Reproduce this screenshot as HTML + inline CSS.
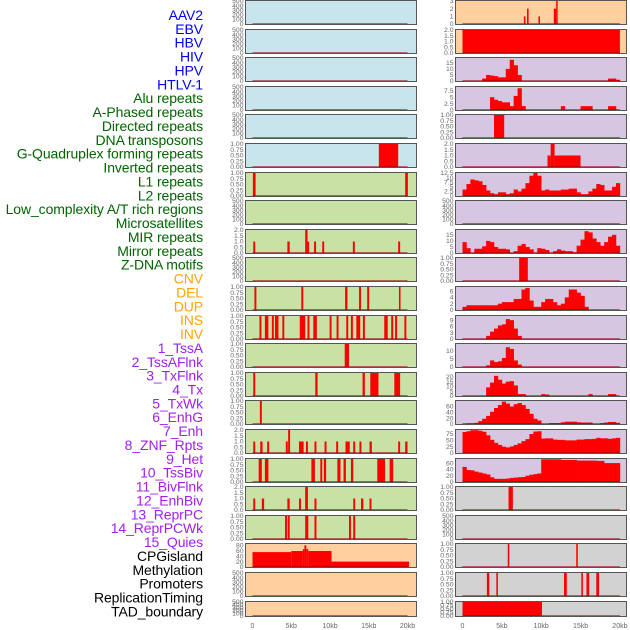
<!DOCTYPE html>
<html><head><meta charset="utf-8"><style>
html,body{margin:0;padding:0;background:#fff;}
svg{display:block;font-family:"Liberation Sans",sans-serif;}
</style></head><body>
<svg id="chart" width="630" height="630" viewBox="0 0 630 630" xmlns="http://www.w3.org/2000/svg"></svg>
<script>
// ---------- data ----------
const labels = ["AAV2","EBV","HBV","HIV","HPV","HTLV-1","Alu repeats","A-Phased repeats","Directed repeats","DNA transposons","G-Quadruplex forming repeats","Inverted repeats","L1 repeats","L2 repeats","Low_complexity A/T rich regions","Microsatellites","MIR repeats","Mirror repeats","Z-DNA motifs","CNV","DEL","DUP","INS","INV","1_TssA","2_TssAFlnk","3_TxFlnk","4_Tx","5_TxWk","6_EnhG","7_Enh","8_ZNF_Rpts","9_Het","10_TssBiv","11_BivFlnk","12_EnhBiv","13_ReprPC","14_ReprPCWk","15_Quies","CPGisland","Methylation","Promoters","ReplicationTiming","TAD_boundary"];
const labelColors = ["#0000ff","#0000ff","#0000ff","#0000ff","#0000ff","#0000ff","#006400","#006400","#006400","#006400","#006400","#006400","#006400","#006400","#006400","#006400","#006400","#006400","#006400","#ffa500","#ffa500","#ffa500","#ffa500","#ffa500","#a020f0","#a020f0","#a020f0","#a020f0","#a020f0","#a020f0","#a020f0","#a020f0","#a020f0","#a020f0","#a020f0","#a020f0","#a020f0","#a020f0","#a020f0","#000","#000","#000","#000","#000"];
const xTickValues = [0,5,10,15,20];
const xTickLabels = ["0","5kb","10kb","15kb","20kb"];

const T500 = [0,100,200,300,400,500];
const T1 = [0,0.25,0.5,0.75,1];
const T1L = ["0.00","0.25","0.50","0.75","1.00"];
const T2 = [0,0.5,1,1.5,2];
const T2L = ["0.0","0.5","1.0","1.5","2.0"];

// left column segments [startKb, endKb, value]
const L5 = [[16.3,18.8,1]];
const L6 = [[0.05,0.4,1],[19.7,20.05,1]];
const L8 = [[0.1,0.35,1],[4.5,4.8,1],[6.8,7.1,2],[7.1,7.3,1],[7.95,8.2,1],[9.0,9.25,1],[12.95,13.2,1],[18.8,19.05,1]];
const L10 = [[0.25,0.5,1],[6.3,6.55,1],[11.95,12.25,1],[13.75,14.0,1],[14.8,15.05,1],[18.9,19.1,1]];
const L11 = [[0.9,1.15,1],[1.6,2.05,1],[2.5,2.75,1],[2.9,3.35,1],[3.85,4.1,1],[6.1,6.8,1],[7.1,7.35,1],[7.85,8.3,1],[9.95,10.2,1],[10.85,11.1,1],[12.1,12.35,1],[12.7,12.95,1],[13.4,13.9,1],[14.25,14.5,1],[17.0,17.45,1],[17.9,18.15,1],[18.4,18.65,1],[19.6,19.85,1]];
const L12 = [[11.9,12.45,1]];
const L13 = [[0.1,0.35,1],[8.1,8.4,1],[14.2,14.5,1],[15.2,16.25,1],[18.3,19.05,1]];
const L14 = [[0.95,1.2,1]];
const L15 = [[0.1,0.35,1],[1.0,1.3,1],[1.9,2.15,1],[4.3,4.55,1],[4.6,4.85,2],[6.0,6.6,1],[6.9,7.15,1],[8.0,8.25,1],[9.3,9.55,1],[10.8,11.05,1],[12.0,12.55,1],[13.0,13.25,1],[13.8,14.05,1],[15.1,15.4,1],[18.8,19.05,1],[19.7,20.0,1]];
const L16 = [[0.8,1.2,1],[1.6,2.05,1],[7.6,8.05,1],[8.75,9.0,1],[9.2,9.5,1],[10.95,11.35,1],[11.75,12.05,1],[12.7,13.0,1],[16.1,17.1,1],[17.7,18.15,1]];
const L17 = [[0.1,0.35,1],[1.2,1.5,1],[4.5,4.8,1],[6.0,6.25,1],[6.8,7.15,2],[8.0,8.25,1],[13.0,13.25,1],[14.0,14.3,1],[15.1,15.35,1]];
const L18 = [[4.2,4.45,1],[4.55,4.8,1],[6.8,7.2,1],[8.0,8.25,1],[12.45,12.7,1],[13.0,13.25,1]];
const L19 = [[0,5,55],[5,6.5,59],[6.5,6.7,66],[6.7,6.95,80],[6.95,7.2,66],[7.2,10.2,59],[10.2,20.2,20]];

// right column segments and 0.5kb bins
const R0 = [[7.8,8.0,1],[8.2,8.4,2],[9.65,9.85,1],[11.6,11.9,2],[11.9,12.05,3]];
const R1 = [[0,20,2]];
const R2 = [0,0,0,0,0,2,5,4.5,4,3,3,10,17.5,13,5,0,0,0,0,0,0,0,0,0,0,0,0,0,0,0,0,0,0,0,0,0,0,2,2,1];
const R3 = [0,0,0,0,0,0,0,5,4,3.5,3,3,1.5,5.5,8.5,1.5,0,0,0,0,0,0,0,0,0,1.5,0,0,0,0,1.5,1.5,1.5,0,0,0,0,1.5,1.5,0];
const R4 = [[4.0,5.3,1]];
const R5 = [[10.8,11.2,1],[11.2,11.7,2],[11.7,15.0,1]];
const R6 = [3.5,6.5,9,8.5,8,6,3,1.5,1,2,2,1,1.5,3.5,2.5,4,7,11,12.5,11,3,3.5,3,3,3,3.5,3.5,4,4,2,1,1,2.5,4,6.5,6,3,3,5,7];
const R8 = [9,4,0,3.5,3.5,5.5,10,9,5,3.5,3.5,3,0,1.5,6,7.5,5,3,0,4,3.5,2.5,0,1.5,3,2,1.5,1.5,0.5,6,11,18,17,12,9,6,9,13.5,15,6];
const R9 = [[7.2,8.3,1]];
const R10 = [1,1.5,1.5,1.5,1.5,1.5,1.5,1.5,1.5,2,2.5,2.5,2.5,3.5,3.5,6.5,7,3,1,1,2.5,3.5,3.5,2.5,1.5,2,4,6.5,6.5,5.5,4.5,1,0,0,0,0,0,0,0,0];
const R11 = [0,0,0,0,0,0,1.5,3.5,5,6.5,7,9.5,9,5,1.5,0,0,0,0,0,0,0,0,0,0,0,0,0,0,0,0,0,0,0,0,0,0,0,0,0];
const R12 = [0,0,0,0,0,0,1,4,3,3.5,5.5,12,11,4,1.5,0,0,0,0,0,0,0,0,0,0,0,0,0,0,0,0,0,0,0,0,0,0,0,0,0];
const R13 = [0,0,0,0,0,0,9,14,21,17,13,15,15.5,11,2,2,0,0,0,0,2,1.5,0,0,0,0,0,0,0,0,0,0,2,0,0,0,0,2,2,0];
const R14 = [0.5,2,2,4,10,18,28,42,55,65,77,70,60,68,72,65,52,35,18,12,0,0,3,3,3,6,8,8,8,6,5,5,5,0,0,3,5,7,7,4];
const R15 = [83,86,90,90,88,84,70,52,40,32,25,22,26,32,38,47,55,75,85,86,57,58,58,53,52,52,50,50,50,53,53,55,55,56,60,58,58,56,58,60];
const R16 = [48,38,37,33,30,27,24,15,10,10,10,11,13,14,15,16,20,23,25,27,72,72,72,72,72,70,70,70,70,68,68,68,68,68,67,67,60,60,60,60];
const R17 = [[5.85,6.4,1]];
const R19 = [[5.75,5.95,1],[14.45,14.65,1]];
const R20 = [[3.1,3.4,1],[4.3,4.5,1],[12.9,13.25,1],[15.1,15.3,1],[15.75,16.1,1],[17.0,17.35,1]];
const R21 = [[0,10.1,1]];

// ---------- layout ----------
const BLUE="#c8e4ec", GREEN="#c8e1a4", PEACH="#ffd09f", LAV="#d7c6e1", GRAY="#d2d2d2";
const rowTop = i => Math.round(i*28.6);
const rowH = i => i===21 ? 16 : 25;
const leftPanels = [
 {bg:BLUE,t:T500},{bg:BLUE,t:T500},{bg:BLUE,t:T500},{bg:BLUE,t:T500},{bg:BLUE,t:T500},
 {bg:BLUE,t:T1,tl:T1L,s:L5},{bg:GREEN,t:T1,tl:T1L,s:L6},{bg:GREEN,t:T500},
 {bg:GREEN,t:T2,tl:T2L,s:L8},{bg:GREEN,t:T500},{bg:GREEN,t:T1,tl:T1L,s:L10},
 {bg:GREEN,t:T1,tl:T1L,s:L11},{bg:GREEN,t:T1,tl:T1L,s:L12},{bg:GREEN,t:T1,tl:T1L,s:L13},
 {bg:GREEN,t:T1,tl:T1L,s:L14},{bg:GREEN,t:T2,tl:T2L,s:L15},{bg:GREEN,t:T1,tl:T1L,s:L16},
 {bg:GREEN,t:T2,tl:T2L,s:L17},{bg:GREEN,t:T1,tl:T1L,s:L18},
 {bg:PEACH,t:[0,20,40,60,80],max:85,s:L19},{bg:PEACH,t:T500},{bg:PEACH,t:T500}
];
const rightPanels = [
 {bg:PEACH,t:[0,1,2,3],s:R0},{bg:PEACH,t:T2,tl:T2L,s:R1},
 {bg:LAV,t:[0,5,10,15],max:19,b:R2},{bg:LAV,t:[0,2.5,5,7.5],max:9,b:R3},
 {bg:LAV,t:T1,tl:T1L,s:R4},{bg:LAV,t:T2,tl:T2L,s:R5},
 {bg:LAV,t:[0,2.5,5,7.5,10,12.5],b:R6},{bg:LAV,t:T500},
 {bg:LAV,t:[0,5,10,15],max:19,b:R8},{bg:LAV,t:T1,tl:T1L,s:R9},
 {bg:LAV,t:[0,2,4,6],max:7.3,b:R10},{bg:LAV,t:[0,3,6,9],max:11,b:R11},
 {bg:LAV,t:[0,5,10],max:14,b:R12},{bg:LAV,t:[0,5,10,15,20],max:24,b:R13},
 {bg:LAV,t:[0,20,40,60],max:79,b:R14},{bg:LAV,t:[0,25,50,75],max:91,b:R15},
 {bg:LAV,t:[0,20,40,60],max:73,b:R16},
 {bg:GRAY,t:T1,tl:T1L,s:R17},{bg:GRAY,t:T500},{bg:GRAY,t:T1,tl:T1L,s:R19},
 {bg:GRAY,t:T1,tl:T1L,s:R20},{bg:GRAY,t:T1,tl:T1L,s:R21}
];

const NS="http://www.w3.org/2000/svg";
const svg=document.getElementById('chart');
function mk(tag,attrs,parent){const e=document.createElementNS(NS,tag);for(const k in attrs)e.setAttribute(k,attrs[k]);(parent||svg).appendChild(e);return e;}

// labels
labels.forEach((lab,i)=>{
  const t=mk('text',{x:203,y:15+i*13.87+5,'text-anchor':'end','font-size':'14',fill:labelColors[i],'letter-spacing':'-0.1'});
  
  
  t.textContent=lab;
});

function drawColumn(panels,px0,pw,kb0,kbScale,colName){
  const xs = kb => kb0 + kb*kbScale;
  panels.forEach((p,i)=>{
    const top=rowTop(i), h=rowH(i);
    const g=mk('g',{});
    
    
    mk('rect',{x:px0,y:top+0.5,width:pw,height:h-1,fill:p.bg},g);
    const ymax = p.max || p.t[p.t.length-1];
    const bottom = top+h-1, inner = h-2;
    const ys = v => bottom - v/ymax*inner;
    p.t.forEach((v,k)=>{
      const tt=mk('text',{x:px0-2,y:ys(v)+2.2,'text-anchor':'end','font-size':'6.8',fill:'#666'},g);
      
      
      tt.textContent = p.tl ? p.tl[k] : String(v);
    });
    if(p.s){p.s.forEach(sg=>{
      const r=mk('rect',{x:xs(sg[0]),y:ys(sg[2]),width:Math.max(1.5,xs(sg[1])-xs(sg[0])),height:bottom-ys(sg[2]),fill:'#ff0000'},g);
      
      
    });}
    if(p.b){p.b.forEach((v,k)=>{
      if(v<=0) return;
      const r=mk('rect',{x:xs(k*0.5),y:ys(v),width:xs(0.5)-xs(0)+0.3,height:bottom-ys(v),fill:'#ff0000'},g);
      
      
    });}
    mk('line',{x1:xs(0),x2:xs(20),y1:bottom-0.5,y2:bottom-0.5,stroke:'rgba(150,0,0,0.55)','stroke-width':1},g);
    mk('rect',{x:px0,y:top+0.5,width:pw,height:h-1,fill:'none',stroke:'#555','stroke-width':1},g);
  });
  xTickValues.forEach((v,k)=>{
    const t=mk('text',{x:xs(v),y:628,'text-anchor':'middle','font-size':'7',fill:'#666'});
    
    
    t.textContent=xTickLabels[k];
  });
}
drawColumn(leftPanels,245.5,171,252.5,7.75,'left');
drawColumn(rightPanels,455.5,171,462.5,7.87,'right');
</script>
</body></html>
